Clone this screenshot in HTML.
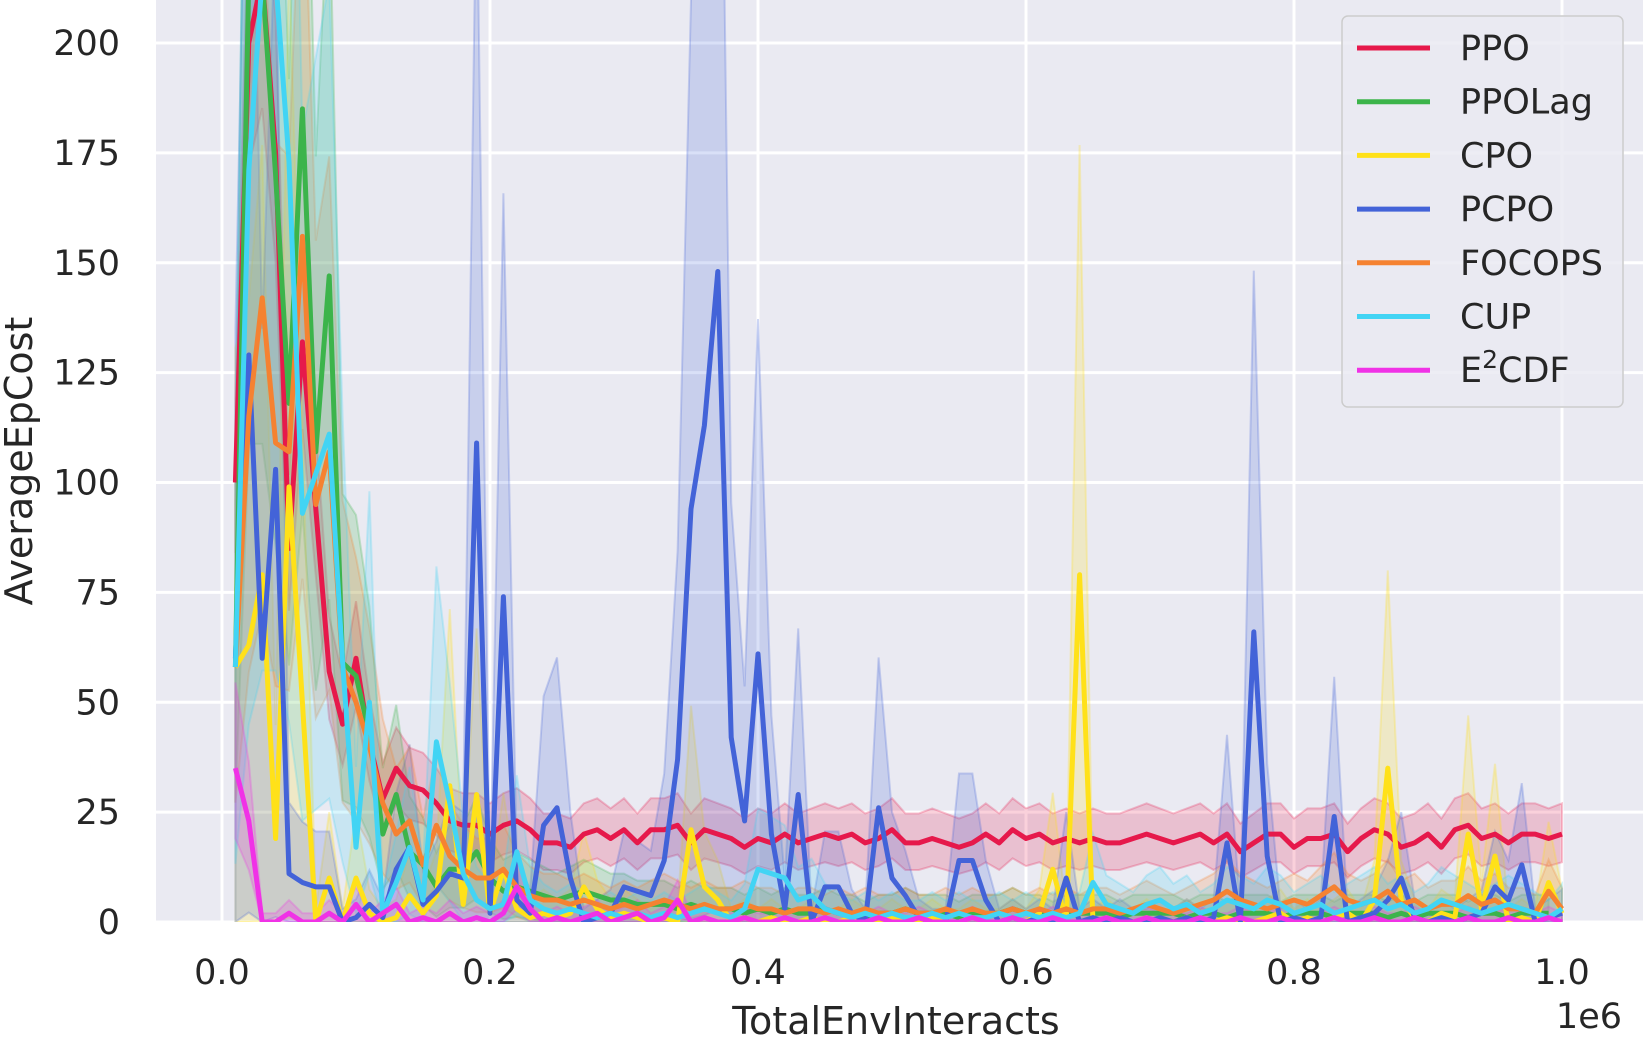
<!DOCTYPE html>
<html><head><meta charset="utf-8">
<style>
html,body{margin:0;padding:0;background:#fff;}
svg{display:block;font-family:"DejaVu Sans","Liberation Sans",sans-serif;}
</style></head>
<body>
<svg id="chart" width="1643" height="1044" viewBox="0 0 1643 1044" xmlns="http://www.w3.org/2000/svg">
<defs><clipPath id="plotclip"><rect x="156" y="0" width="1487" height="922"/></clipPath></defs>
<rect x="156" y="0" width="1487" height="922" fill="#eaeaf2"/>
<g id="grid"></g>
<g id="bands" clip-path="url(#plotclip)"></g>
<g id="lines" clip-path="url(#plotclip)"></g>
<g id="ticks" fill="#262626" font-size="35"></g>
<text x="896" y="1034" font-size="38" fill="#262626" text-anchor="middle">TotalEnvInteracts</text>
<text x="1622" y="1028" font-size="35" fill="#262626" text-anchor="end">1e6</text>
<text transform="translate(32,461) rotate(-90)" font-size="38" fill="#262626" text-anchor="middle">AverageEpCost</text>
<g id="legend"></g>
</svg>
<script>
const NS="http://www.w3.org/2000/svg";
const xTicks=[0,0.2,0.4,0.6,0.8,1.0];
const xTickLabels=["0.0","0.2","0.4","0.6","0.8","1.0"];
const yTicks=[0,25,50,75,100,125,150,175,200];
const seriesNames=["PPO","PPOLag","CPO","PCPO","FOCOPS","CUP","E2CDF"];
const ppo=[100,200,215,175,85,132,94,57,45,60,41,28,35,31,30,27,23,22,22,
20,22,23,21,18,18,17,20,21,19,21,18,21,21,22,18,21,20,19,17,19,18,20,18,19,20,19,20,18,19,21,18,18,19,18,17,18,20,18,21,19,20,18,19,18,19,18,18,19,20,19,18,19,20,18,20,16,18,20,20,17,19,19,20,16,19,21,20,17,18,20,17,21,22,19,20,18,20,20,19,20];
const ppolag=[58,215,215,170,118,185,107,147,59,56,43,20,29,16,13,8,12,12,16,
10,7,8,7,6,5,6,7,6,5,5,4,4,4,3,4,3,3,3,2,3,2,3,2,2,3,2,2,1,2,2,3,2,2,2,1,2,2,2,3,2,2,1,2,2,2,2,1,2,2,2,2,1,2,2,1,2,2,2,1,2,2,2,1,2,2,2,1,2,1,2,2,2,1,2,2,1,2,2,2];
const cpo=[58,63,79,19,99,50,0,10,0,10,2,0,1,6,2,6,31,4,29,
2,12,3,1,2,1,2,8,3,1,2,1,0,1,0,21,8,5,0,1,0,1,0,0,1,0,0,1,0,0,1,0,0,1,0,0,1,0,0,1,0,2,12,0,79,0,1,0,0,1,0,0,1,0,0,1,0,0,1,2,0,1,0,1,2,0,5,35,5,1,0,2,1,20,3,15,0,1,0,9,2];
const pcpo=[60,129,60,103,11,9,8,8,0,1,4,1,12,17,4,7,11,10,109,
2,74,5,2,22,26,10,0,1,2,
8,7,6,14,37,94,113,148,42,23,
61,20,3,29,0,8,8,2,0,26,
10,6,1,0,0,14,14,5,0,1,
0,1,0,10,0,1,0,1,0,0,
1,0,1,0,1,18,0,66,15,0,
1,0,1,24,0,1,2,5,10,1,
0,1,0,1,2,8,5,13,0,1,
2];
const focops=[58,115,142,109,107,156,95,107,58,50,40,27,20,23,13,22,15,12,10,
10,12,8,6,5,5,4,5,4,3,4,3,4,5,4,3,4,3,3,4,3,3,2,3,3,2,3,2,3,2,2,3,2,2,3,2,3,2,2,3,2,3,2,3,2,3,3,2,3,4,3,2,3,4,5,7,5,4,3,4,5,4,6,8,5,4,5,7,4,5,3,4,4,6,4,5,3,3,2,7,3];
const cup=[58,171,215,215,173,93,102,111,59,17,50,2,9,17,5,41,27,11,5,
3,4,16,5,3,2,3,2,1,2,1,2,1,2,1,2,3,2,1,3,12,11,10,5,6,3,2,1,2,1,2,1,1,2,1,2,1,1,2,1,2,1,2,1,2,9,4,3,2,4,5,3,4,2,3,5,4,3,5,4,2,3,4,2,3,4,5,3,4,2,3,5,4,3,2,3,4,3,2,1,3];
const e2cdf=[35,23,0,0,2,0,0,2,0,4,0,2,4,0,1,0,2,0,1,
0,2,8,3,0,1,0,1,2,0,1,2,0,1,5,0,1,0,0,1,0,0,1,0,0,1,0,0,0,1,0,0,1,0,0,0,1,0,0,1,0,0,1,0,0,0,1,0,0,1,0,0,0,1,0,0,1,0,0,1,0,0,0,1,0,0,1,0,0,1,0,0,0,1,0,0,1,0,0,1,0];
const seriesValues=[ppo,ppolag,cpo,pcpo,focops,cup,e2cdf];
const colors=["#e6194b","#3cb44b","#ffe119","#4363d8","#f58231","#42d4f4","#f032e6"];
const bandA=[0.15,0.6,1.2,1.2,0.6,0.9,0.5];
const bandB=[4,3,3,3,3,3,2];
const xs=(v)=>222+v*1340;
const ys=(v)=>922-v*4.395;
function el(tag,attrs,parent){const e=document.createElementNS(NS,tag);for(const k in attrs)e.setAttribute(k,attrs[k]);parent.appendChild(e);return e;}
const grid=document.getElementById('grid'),ticks=document.getElementById('ticks');
xTicks.forEach((t,i)=>{
  const l=el('line',{x1:xs(t),x2:xs(t),y1:0,y2:922,stroke:'#fff','stroke-width':3},grid);
  
  
  const tx=el('text',{x:xs(t),y:984,'text-anchor':'middle'},ticks);
  tx.textContent=xTickLabels[i];
  
  
});
yTicks.forEach(t=>{
  const l=el('line',{x1:156,x2:1643,y1:ys(t),y2:ys(t),stroke:'#fff','stroke-width':3},grid);
  
  
  const tx=el('text',{x:120,y:ys(t)+12,'text-anchor':'end'},ticks);
  tx.textContent=String(t);
  
  
});
const bands=document.getElementById('bands'),lines=document.getElementById('lines');
seriesValues.forEach((vals,s)=>{
  const xv=vals.map((v,i)=>(i+1)*0.01);
  const up=vals.map(v=>v+bandA[s]*v+bandB[s]);
  const lo=vals.map(v=>Math.max(0,v-bandA[s]*v*0.8-bandB[s]));
  let d='M'+xv.map((x,i)=>xs(x)+','+ys(up[i])).join('L');
  for(let i=vals.length-1;i>=0;i--)d+='L'+xs(xv[i])+','+ys(lo[i]);
  const p=el('path',{d:d+'Z',fill:colors[s],'fill-opacity':0.2,stroke:colors[s],'stroke-opacity':0.25,'stroke-width':2},bands);
  
  
});
seriesValues.forEach((vals,s)=>{
  const pts=vals.map((v,i)=>xs((i+1)*0.01)+','+ys(v)).join(' ');
  const pl=el('polyline',{points:pts,fill:'none',stroke:colors[s],'stroke-width':5,'stroke-linejoin':'round'},lines);
  
  
});
const lg=document.getElementById('legend');
el('rect',{x:1342,y:16,width:281,height:391,rx:6,fill:'#eaeaf2','fill-opacity':0.85,stroke:'#cccccc','stroke-width':1.5},lg);
seriesNames.forEach((n,s)=>{
  const y=48+53.7*s;
  const g=el('g',{},lg);
  
  
  el('line',{x1:1357,x2:1430,y1:y,y2:y,stroke:colors[s],'stroke-width':5},g);
  const t=el('text',{x:1460,y:y+12,'font-size':35,fill:'#262626'},g);
  if(n==='E2CDF'){
    t.appendChild(document.createTextNode('E'));
    const sup=el('tspan',{dy:-14,'font-size':25},t);sup.textContent='2';
    const r=el('tspan',{dy:14},t);r.textContent='CDF';
  } else t.textContent=n;
});
</script>
</body></html>
